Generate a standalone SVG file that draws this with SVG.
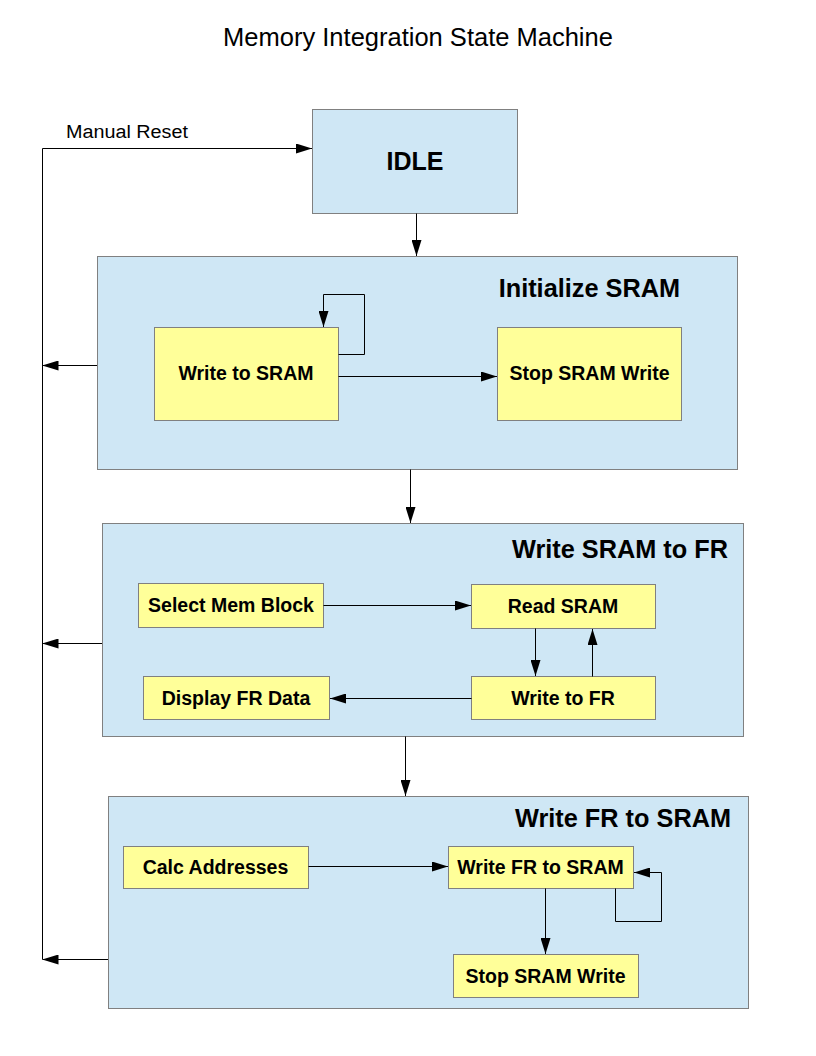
<svg xmlns="http://www.w3.org/2000/svg" width="816" height="1056" viewBox="0 0 816 1056">
<defs>
<marker id="ah" viewBox="0 0 16 10" refX="16" refY="5" markerWidth="16" markerHeight="10" markerUnits="userSpaceOnUse" orient="auto">
<path d="M0,0 L16,5 L0,10 Z" fill="#000"/>
</marker>
</defs>
<style>
.grp{fill:#cfe7f5;stroke:#808080;stroke-width:1}
.st{fill:#ffff99;stroke:#808080;stroke-width:1}
.lbl{font-family:"Liberation Sans",Arial,sans-serif;font-weight:bold;font-size:19.5px;text-anchor:middle;fill:#000}
.big{font-size:25px}
.ttl{font-family:"Liberation Sans",Arial,sans-serif;font-weight:bold;font-size:25.3px;text-anchor:end;fill:#000}
.c{fill:none;stroke:#000;stroke-width:1}
.ca{fill:none;stroke:#000;stroke-width:1;marker-end:url(#ah)}
</style>
<rect width="816" height="1056" fill="#fff"/>
<text x="418" y="46" font-family="'Liberation Sans',Arial,sans-serif" font-size="25.5" text-anchor="middle">Memory Integration State Machine</text>

<g id="idle">
<rect class="grp" x="312.5" y="109.5" width="205" height="104"/>
<text x="415" y="170" class="lbl big">IDLE</text>
</g>

<g id="init-sram">
<rect class="grp" x="97.5" y="256.5" width="640" height="213"/>
<text x="680" y="297" class="ttl">Initialize SRAM</text>
<g id="write-to-sram">
<rect class="st" x="154.5" y="327.5" width="184" height="93"/>
<text x="246" y="380" class="lbl">Write to SRAM</text>
</g>
<g id="stop-sram-write-1">
<rect class="st" x="497.5" y="327.5" width="184" height="93"/>
<text x="589.5" y="380" class="lbl">Stop SRAM Write</text>
</g>
</g>

<g id="write-sram-to-fr">
<rect class="grp" x="102.5" y="523.5" width="641" height="213"/>
<text x="728" y="558" class="ttl">Write SRAM to FR</text>
<g id="select-mem-block">
<rect class="st" x="138.5" y="583.5" width="185" height="44"/>
<text x="231" y="612" class="lbl">Select Mem Block</text>
</g>
<g id="read-sram">
<rect class="st" x="471.5" y="584.5" width="184" height="44"/>
<text x="563" y="613" class="lbl">Read SRAM</text>
</g>
<g id="write-to-fr">
<rect class="st" x="471.5" y="676.5" width="184" height="43"/>
<text x="563" y="705" class="lbl">Write to FR</text>
</g>
<g id="display-fr-data">
<rect class="st" x="143.5" y="676.5" width="186" height="43"/>
<text x="236" y="705" class="lbl">Display FR Data</text>
</g>
</g>

<g id="write-fr-to-sram">
<rect class="grp" x="108.5" y="796.5" width="640" height="212"/>
<text x="731" y="827" class="ttl">Write FR to SRAM</text>
<g id="calc-addresses">
<rect class="st" x="123.5" y="846.5" width="185" height="42"/>
<text x="215.5" y="874" class="lbl">Calc Addresses</text>
</g>
<g id="write-fr-to-sram-state">
<rect class="st" x="448.5" y="846.5" width="185" height="42"/>
<text x="540.5" y="874" class="lbl">Write FR to SRAM</text>
</g>
<g id="stop-sram-write-2">
<rect class="st" x="453.5" y="954.5" width="185" height="43"/>
<text x="545.5" y="983" class="lbl">Stop SRAM Write</text>
</g>
</g>

<g id="connectors">
<text x="66" y="138" font-family="'Liberation Sans',Arial,sans-serif" font-size="18" textLength="122" lengthAdjust="spacingAndGlyphs">Manual Reset</text>
<polyline class="ca" points="42.5,959.5 42.5,148.5 312,148.5"/>
<line class="ca" x1="97" y1="365.5" x2="42.5" y2="365.5"/>
<line class="ca" x1="102" y1="643.5" x2="42.5" y2="643.5"/>
<line class="ca" x1="108" y1="959.5" x2="42.5" y2="959.5"/>
<line class="ca" x1="416.5" y1="213.5" x2="416.5" y2="256"/>
<line class="ca" x1="410.5" y1="469.5" x2="410.5" y2="523"/>
<line class="ca" x1="405.5" y1="736.5" x2="405.5" y2="796"/>
<polyline class="ca" points="338.5,354.5 364.5,354.5 364.5,294.5 323.5,294.5 323.5,327"/>
<line class="ca" x1="338.5" y1="376.5" x2="497" y2="376.5"/>
<line class="ca" x1="323.5" y1="605.5" x2="471" y2="605.5"/>
<line class="ca" x1="535.5" y1="628.5" x2="535.5" y2="676"/>
<line class="ca" x1="592.5" y1="676.5" x2="592.5" y2="629"/>
<line class="ca" x1="471.5" y1="698.5" x2="330" y2="698.5"/>
<line class="ca" x1="308.5" y1="866.5" x2="448" y2="866.5"/>
<line class="ca" x1="545.5" y1="888.5" x2="545.5" y2="954"/>
<polyline class="ca" points="615.5,888.5 615.5,921.5 661.5,921.5 661.5,872.5 634,872.5"/>
</g>
</svg>
